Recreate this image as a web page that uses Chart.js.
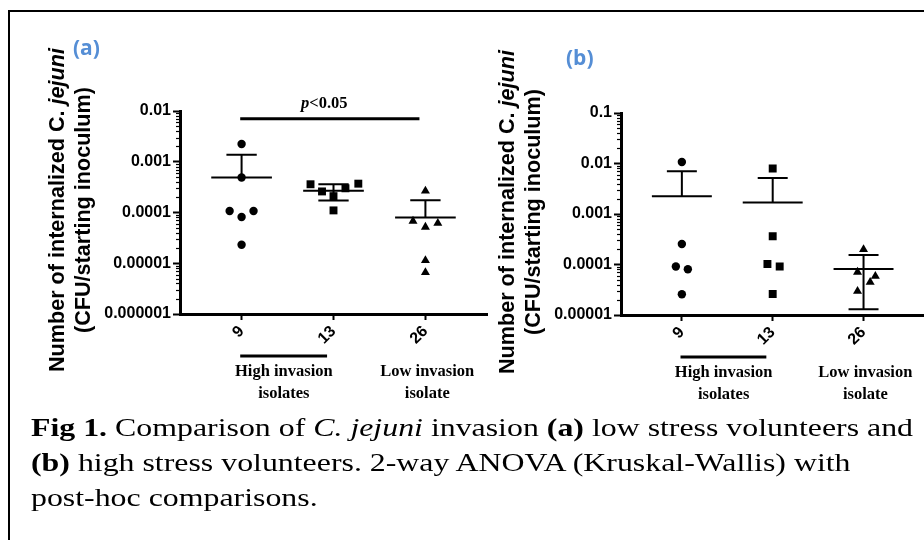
<!DOCTYPE html>
<html>
<head>
<meta charset="utf-8">
<script src="https://cdn.jsdelivr.net/npm/chart.js@4.4.1/dist/chart.umd.min.js"></script>
<style>
  html, body { margin: 0; padding: 0; background: #fff; width: 924px; height: 540px; overflow: hidden; }
  #frame { position: absolute; left: 8px; top: 10px; width: 960px; height: 600px; border: 2px solid #000; box-sizing: border-box; }
  canvas { position: absolute; top: 0; }
  .ytitle { position: absolute; width: 360px; height: 56px; line-height: 28px; text-align: center;
            font: bold 21.6px "Liberation Sans"; color: #000; transform: rotate(-90deg); white-space: nowrap; }
  .panel { position: absolute; font: bold 21px "Open Sans"; line-height: 22px; color: #558ed5; }
  #caption { position: absolute; left: 31px; top: 410px; font: 25.5px "Liberation Serif"; line-height: 35px;
             color: #000; white-space: nowrap; transform-origin: left top; }
</style>
</head>
<body>
<div id="frame"></div>
<canvas id="chartA" width="500" height="420" style="left:0px;width:500px;height:420px"></canvas>
<canvas id="chartB" width="430" height="420" style="left:500px;width:430px;height:420px"></canvas>
<div class="ytitle" style="left:-108px;top:182px">Number of internalized C. <i>jejuni</i><br>(CFU/starting inoculum)</div>
<div class="ytitle" style="left:342px;top:184px">Number of internalized C. <i>jejuni</i><br>(CFU/starting inoculum)</div>
<div class="panel" style="left:73px;top:36px">(a)</div>
<div class="panel" style="left:566px;top:46px">(b)</div>
<div id="caption"><span id="capLine1"><b>Fig 1.</b> Comparison of <i>C. jejuni</i> invasion <b>(a)</b> low stress volunteers and</span><br><b>(b)</b> high stress volunteers. 2-way ANOVA (Kruskal-Wallis) with<br>post-hoc comparisons.</div>
<script>
// isolates on the x axis
const isolates = ['9', '13', '26'];

// (a) low stress volunteers
const lowIso9 = [0.00223, 0.00049, 0.000107, 0.000107, 0.0000813, 0.0000232];
const lowIso13 = [0.00036, 0.00026, 0.00021, 0.00030, 0.00037, 0.00011];
const lowIso26 = [0.000266, 0.0000679, 0.0000517, 0.0000614, 0.0000114, 0.0000066];
const lowJitter9 = [0, 0, -0.13, 0.13, 0, 0];
const lowJitter13 = [-0.25, -0.125, 0, 0.13, 0.27, 0];
const lowJitter26 = [0, -0.135, 0, 0.135, 0, 0];
const lowMean = [0.00049, 0.000267, 0.0000794];
const lowUpper = [0.00137, 0.00036, 0.000174];
const lowLower = [null, 0.000172, null];

// (b) high stress volunteers
const highIso9 = [0.0107, 0.000255, 0.0000913, 0.0000804, 0.0000257];
const highIso13 = [0.00794, 0.000363, 0.000102, 0.0000912, 0.000026];
const highIso26 = [0.000199, 0.0000709, 0.0000588, 0.0000445, 0.0000295];
const highJitter9 = [0, 0, -0.066, 0.066, 0];
const highJitter13 = [0, 0, -0.058, 0.077, 0];
const highJitter26 = [0, -0.066, 0.13, 0.073, -0.066];
const highMean = [0.00224, 0.00168, 0.0000812];
const highUpper = [0.0070, 0.00516, 0.000155];
const highLower = [null, null, 0.000013];

// y tick labels
const yTicksA = [0.000001, 0.00001, 0.0001, 0.001, 0.01];
const yLabelsA = ['0.000001', '0.00001', '0.0001', '0.001', '0.01'];
const yTicksB = [0.00001, 0.0001, 0.001, 0.01, 0.1];
const yLabelsB = ['0.00001', '0.0001', '0.001', '0.01', '0.1'];

const tickFont = { family: 'Liberation Sans', weight: 'bold', size: 16 };

function points(values, jitter, pos) {
    return values.map((v, i) => ({ x: pos + jitter[i], y: v }));
}

// error bars, minor ticks and the annotations under / over the plot
const extrasPlugin = {
    id: 'extras',
    afterDraw(chart, args, o) {
        const ctx = chart.ctx;
        const x = chart.scales.x, y = chart.scales.y;
        const area = chart.chartArea;
        ctx.save();
        ctx.strokeStyle = '#000';
        ctx.fillStyle = '#000';

        // minor ticks on the log axis
        ctx.lineWidth = 1.2;
        for (let d = y.min; d < y.max * 0.99; d *= 10) {
            for (let k = 2; k <= 9; k++) {
                const py = Math.round(y.getPixelForValue(d * k)) + 0.5;
                ctx.beginPath();
                ctx.moveTo(area.left - 4, py);
                ctx.lineTo(area.left, py);
                ctx.stroke();
            }
        }

        // mean +/- SEM
        ctx.lineWidth = 2;
        o.mean.forEach((m, i) => {
            const cx = x.getPixelForValue(i + 1);
            const half = x.getPixelForValue(i + 1.33) - cx;
            const cap = half / 2;
            const my = y.getPixelForValue(m);
            ctx.beginPath();
            ctx.moveTo(cx - half, my); ctx.lineTo(cx + half, my);
            const up = y.getPixelForValue(o.upper[i]);
            ctx.moveTo(cx, my); ctx.lineTo(cx, up);
            ctx.moveTo(cx - cap, up); ctx.lineTo(cx + cap, up);
            if (o.lower[i] !== null) {
                const lo = y.getPixelForValue(o.lower[i]);
                ctx.moveTo(cx, my); ctx.lineTo(cx, lo);
                ctx.moveTo(cx - cap, lo); ctx.lineTo(cx + cap, lo);
            }
            ctx.stroke();
        });

        // significance bar
        if (o.sig) {
            const sy = y.getPixelForValue(o.sig.y);
            ctx.lineWidth = 3;
            ctx.beginPath();
            ctx.moveTo(x.getPixelForValue(o.sig.from), sy);
            ctx.lineTo(x.getPixelForValue(o.sig.to), sy);
            ctx.stroke();
            const tx = x.getPixelForValue(o.sig.at);
            ctx.textBaseline = 'alphabetic';
            ctx.font = 'italic bold 16.5px "Liberation Serif"';
            const pw = ctx.measureText('p').width;
            ctx.font = 'bold 16.5px "Liberation Serif"';
            const rw = ctx.measureText('<0.05').width;
            const start = tx - (pw + rw) / 2;
            ctx.textAlign = 'left';
            ctx.font = 'italic bold 16.5px "Liberation Serif"';
            ctx.fillText('p', start, sy - 11);
            ctx.font = 'bold 16.5px "Liberation Serif"';
            ctx.fillText('<0.05', start + pw, sy - 11);
        }

        // group bar and group labels below the axis
        const base = area.bottom;
        ctx.lineWidth = 3;
        ctx.beginPath();
        ctx.moveTo(x.getPixelForValue(0.985), base + 42);
        ctx.lineTo(x.getPixelForValue(1.93), base + 42);
        ctx.stroke();
        ctx.font = 'bold 16.5px "Liberation Serif"';
        ctx.textAlign = 'center';
        ctx.textBaseline = 'middle';
        const hx = x.getPixelForValue(1.46), lx = x.getPixelForValue(3.02);
        ctx.fillText('High invasion', hx, base + 58);
        ctx.fillText('isolates', hx, base + 80);
        ctx.fillText('Low invasion', lx, base + 58);
        ctx.fillText('isolate', lx, base + 80);
        ctx.restore();
    }
};

function makeChart(id, sets, yTicks, yLabels, pad, yWidth, extras) {
    const styles = ['circle', 'rect', 'triangle'];
    const radii = [4.2, 5.6, 5.2];
    return new Chart(document.getElementById(id), {
        type: 'scatter',
        data: {
            datasets: sets.map((s, i) => ({
                data: s,
                pointStyle: styles[i],
                pointRadius: radii[i],
                backgroundColor: '#000',
                borderColor: '#000',
                borderWidth: 0
            }))
        },
        options: {
            responsive: false,
            animation: false,
            events: [],
            layout: { padding: pad },
            plugins: { legend: { display: false }, tooltip: { enabled: false }, extras: extras },
            scales: {
                x: {
                    type: 'linear', min: 0.33, max: 3.67, bounds: 'data',
                    afterBuildTicks: s => { s.ticks = [1, 2, 3].map(v => ({ value: v })); },
                    afterFit: s => { s.height = 50; },
                    ticks: { autoSkip: false, minRotation: 45, maxRotation: 45, padding: 2, color: '#000', font: tickFont,
                             callback: v => isolates[v - 1] },
                    grid: { drawOnChartArea: false, drawTicks: true, tickLength: 6, tickWidth: 2, tickColor: '#000' },
                    border: { display: true, color: '#000', width: 3 }
                },
                y: {
                    type: 'logarithmic', min: yTicks[0], max: yTicks[yTicks.length - 1], bounds: 'data',
                    afterBuildTicks: s => { s.ticks = yTicks.map(v => ({ value: v, major: true })); },
                    afterFit: s => { s.width = yWidth; },
                    ticks: { autoSkip: false, padding: 2, color: '#000', font: tickFont,
                             callback: v => yLabels[yTicks.indexOf(v)] },
                    grid: { drawOnChartArea: false, drawTicks: true, tickLength: 7, tickWidth: 2, tickColor: '#000' },
                    border: { display: true, color: '#000', width: 3 }
                }
            }
        },
        plugins: [extrasPlugin]
    });
}

makeChart('chartA',
    [points(lowIso9, lowJitter9, 1), points(lowIso13, lowJitter13, 2), points(lowIso26, lowJitter26, 3)],
    yTicksA, yLabelsA, { top: 111, left: 0, right: 13, bottom: 56 }, 180,
    { mean: lowMean, upper: lowUpper, lower: lowLower, sig: { from: 0.985, to: 2.935, y: 0.007, at: 1.9 } });

makeChart('chartB',
    [points(highIso9, highJitter9, 1), points(highIso13, highJitter13, 2), points(highIso26, highJitter26, 3)],
    yTicksB, yLabelsB, { top: 113, left: 0, right: 4, bottom: 55 }, 121,
    { mean: highMean, upper: highUpper, lower: highLower, sig: null });

// the caption in the figure is set wide; stretch it to the same line length
const cap = document.getElementById('caption');
const w1 = document.getElementById('capLine1').getBoundingClientRect().width;
cap.style.transform = 'scaleX(' + (882 / w1) + ')';
</script>
</body>
</html>
